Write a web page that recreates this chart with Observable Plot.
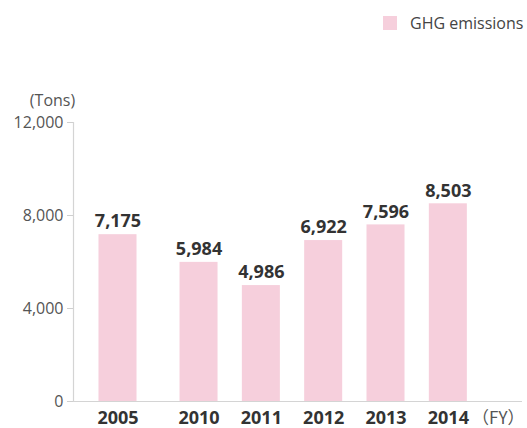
<!DOCTYPE html>
<html>
<head>
<meta charset="utf-8">
<script src="https://cdn.jsdelivr.net/npm/d3@7"></script>
<script src="https://cdn.jsdelivr.net/npm/@observablehq/plot@0.6"></script>
<style>
  html, body { margin: 0; padding: 0; background: #fff; }
  body { width: 527px; height: 428px; overflow: hidden; font-family: "Open Sans", "Noto Sans", sans-serif; }
  .legend { position: relative; height: 40px; }
  .legend .sw { position: absolute; left: 383px; top: 16px; width: 14px; height: 14px; background: #f6cfdc; }
  .legend .lb { position: absolute; left: 410px; top: 12px; font-size: 16px; line-height: 22px; color: #444; white-space: nowrap; }
  #chart svg { overflow: visible; display: block; }
</style>
</head>
<body>
<div class="legend"><span class="sw"></span><span class="lb">GHG emissions</span></div>
<div id="chart"></div>
<script>
const years = ["2005", "2010", "2011", "2012", "2013", "2014"];
const emissions = [7175, 5984, 4986, 6922, 7596, 8503];
const yTicks = [0, 4000, 8000, 12000];
const seriesName = "GHG emissions";
const yUnit = "(Tons)";
const xUnit = "（FY）";

// slot positions: extra gap after the first (2005) bar
const gap = 0.3;
const data = years.map((y, i) => ({year: y, value: emissions[i], pos: i + (i > 0 ? gap : 0)}));
const xDomain = [-0.714, 6.49];
const half = 0.305;
const fmt = d3.format(",");
const barColor = "#f6cfdc";

const chart = Plot.plot({
  width: 527,
  height: 388,
  marginLeft: 73,
  marginRight: 5,
  marginTop: 82,
  marginBottom: 27,
  style: {fontFamily: "'Open Sans', 'Noto Sans', sans-serif", background: "#fff", overflow: "visible"},
  x: {type: "linear", domain: xDomain, axis: null},
  y: {domain: [0, 12000], axis: null},
  marks: [
    Plot.rectY(data, {x1: d => d.pos - half, x2: d => d.pos + half, y: "value", fill: barColor}),
    Plot.ruleY([0], {stroke: "#d4d4d4", strokeWidth: 1.2}),
    Plot.ruleX([xDomain[0]], {y1: 0, y2: 12000, stroke: "#d4d4d4", strokeWidth: 1.2}),
    Plot.axisY({ticks: yTicks, tickFormat: fmt, tickSize: 6, tickPadding: 4, stroke: "#cfcfcf", fontSize: 16, color: "#555", label: null}),
    Plot.text([yUnit], {frameAnchor: "top-left", dx: -21, dy: -22, text: d => d, fontSize: 16, fill: "#555", textAnchor: "middle", lineAnchor: "middle"}),
    Plot.text(data, {x: "pos", y: "value", text: d => fmt(d.value), dy: -13, lineAnchor: "middle", fontSize: 18, fontWeight: "bold", fill: "#333"}),
    Plot.text(data, {x: "pos", frameAnchor: "bottom", text: "year", dy: 17, lineAnchor: "middle", fontSize: 18, fontWeight: "bold", fill: "#333"}),
    Plot.text([xUnit], {frameAnchor: "bottom-right", text: d => d, dx: 2, dy: 17, lineAnchor: "middle", textAnchor: "end", fontSize: 17, fill: "#555", fontFamily: "'Noto Sans CJK JP', sans-serif"})
  ]
});
document.getElementById("chart").appendChild(chart);
</script>
</body>
</html>
